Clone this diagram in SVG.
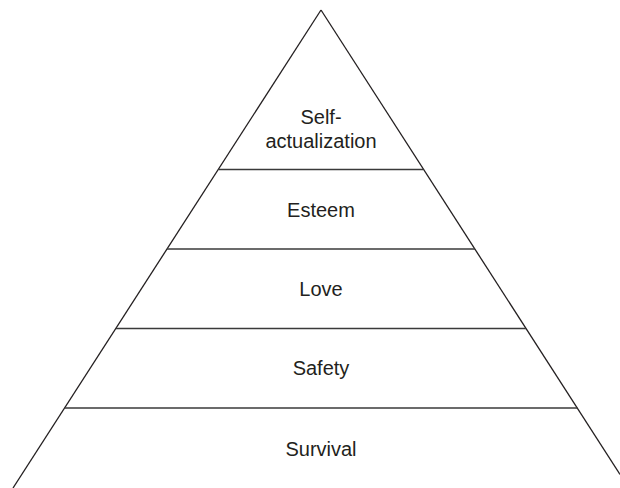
<svg xmlns="http://www.w3.org/2000/svg" width="620" height="488" viewBox="0 0 620 488">
<style>
.edge{stroke:#231f20;stroke-width:1.3;fill:none}
.div{stroke:#3a3a3a;stroke-width:1.5;fill:none}
.lbl{font-family:"Liberation Sans",Arial,Helvetica,sans-serif;font-size:20px;fill:#231f20;text-anchor:middle}
</style>
<rect width="620" height="488" fill="#ffffff"/>
<g id="outline">
<line class="edge" x1="321" y1="10" x2="13" y2="488"/>
<line class="edge" x1="321" y1="10" x2="620" y2="474.5"/>
</g>
<g id="dividers">
<line class="div" x1="218.6" y1="169.5" x2="423.4" y2="169.5"/>
<line class="div" x1="167.1" y1="249" x2="474.9" y2="249"/>
<line class="div" x1="115.9" y1="328.5" x2="526.1" y2="328.5"/>
<line class="div" x1="64.7" y1="408" x2="577.3" y2="408"/>
</g>
<g id="self-actualization">
<text class="lbl" x="321" y="124">Self-</text>
<text class="lbl" x="321" y="148">actualization</text>
</g>
<g id="esteem"><text class="lbl" x="321" y="217">Esteem</text></g>
<g id="love"><text class="lbl" x="321" y="296">Love</text></g>
<g id="safety"><text class="lbl" x="321" y="375">Safety</text></g>
<g id="survival"><text class="lbl" x="321" y="456">Survival</text></g>
</svg>
